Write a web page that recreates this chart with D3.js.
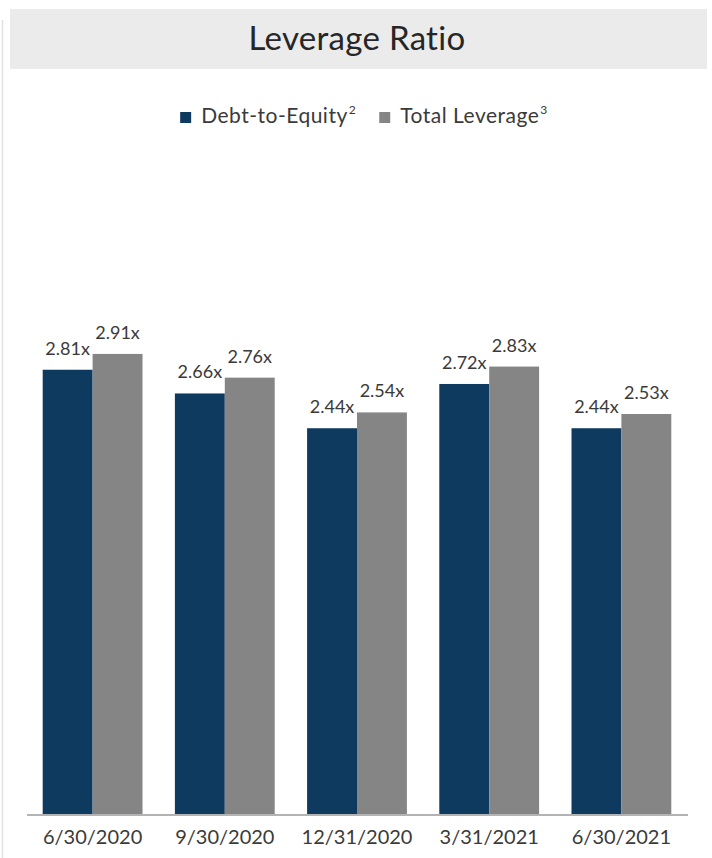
<!DOCTYPE html>
<html>
<head>
<meta charset="utf-8">
<script src="https://cdn.jsdelivr.net/npm/d3@7"></script>
<style>
  html, body { margin: 0; padding: 0; background: #fff; }
  svg { display: block; font-family: Lato, "Noto Sans", sans-serif; }
</style>
</head>
<body>
<svg id="chart" width="712" height="858"></svg>
<script>
// Quarter-end dates and the two leverage series
const categories = ["6/30/2020", "9/30/2020", "12/31/2020", "3/31/2021", "6/30/2021"];
const debtToEquity = [2.81, 2.66, 2.44, 2.72, 2.44];
const totalLeverage = [2.91, 2.76, 2.54, 2.83, 2.53];
const seriesNames = ["Debt-to-Equity", "Total Leverage"];
const seriesNotes = ["2", "3"];
const title = "Leverage Ratio";

const colors = ["#0f3a5f", "#858585"];
const textColor = "#3a3a3a";

const svg = d3.select("#chart");
const W = 712, H = 858;

// faint frame line on the left edge
svg.append("line")
  .attr("x1", 2.5).attr("x2", 2.5).attr("y1", 20).attr("y2", H)
  .attr("stroke", "#e2e2e2").attr("stroke-width", 1.5);

// title banner
svg.append("rect")
  .attr("x", 10).attr("y", 9).attr("width", 697).attr("height", 60)
  .attr("fill", "#ebebeb");
svg.append("text")
  .attr("x", 357).attr("y", 50)
  .attr("text-anchor", "middle")
  .attr("font-size", 33)
  .attr("letter-spacing", 0.3)
  .attr("fill", "#262626")
  .text(title);

// scales
const baseY = 814;
const pxPerUnit = 158.1;
const yMax = 3.5;
const y = d3.scaleLinear().domain([0, yMax]).range([baseY, baseY - pxPerUnit * yMax]);

const x0 = d3.scaleBand().domain(categories).range([26.5, 687.5])
  .paddingInner(0.245).paddingOuter(0.1225);
const x1 = d3.scaleBand().domain([0, 1]).range([0, x0.bandwidth()]).padding(0);

const rows = categories.map((c, i) => ({ cat: c, values: [debtToEquity[i], totalLeverage[i]] }));

const groups = svg.append("g").selectAll("g")
  .data(rows).join("g")
  .attr("transform", d => `translate(${x0(d.cat)},0)`);

groups.selectAll("rect")
  .data(d => d.values.map((v, k) => ({ v, k })))
  .join("rect")
  .attr("x", d => x1(d.k))
  .attr("width", x1.bandwidth())
  .attr("y", d => y(d.v))
  .attr("height", d => baseY - y(d.v))
  .attr("fill", d => colors[d.k]);

groups.selectAll("text.val")
  .data(d => d.values.map((v, k) => ({ v, k })))
  .join("text")
  .attr("class", "val")
  .attr("x", d => x1(d.k) + x1.bandwidth() / 2)
  .attr("y", d => y(d.v) - 15)
  .attr("text-anchor", "middle")
  .attr("font-size", 18)
  .attr("fill", textColor)
  .text(d => d3.format(".2f")(d.v) + "x");

// category axis
const axis = svg.append("g")
  .attr("transform", `translate(0,${baseY + 0.5})`)
  .call(d3.axisBottom(x0).tickSize(0).tickPadding(0).tickSizeOuter(0));
axis.select(".domain").attr("stroke", "#9a9a9a").attr("stroke-width", 1.5);
axis.selectAll(".tick text")
  .attr("y", 29)
  .attr("dy", 0)
  .attr("font-size", 20)
  .attr("font-family", "Lato, 'Noto Sans', sans-serif")
  .attr("fill", textColor);

// legend
const legend = svg.append("g");
const items = legend.selectAll("g").data(seriesNames).join("g");
items.append("rect")
  .attr("width", 11).attr("height", 11)
  .attr("y", 112)
  .attr("fill", (d, i) => colors[i]);
const labels = items.append("text")
  .attr("x", 21).attr("y", 122.5)
  .attr("font-size", 21)
  .attr("letter-spacing", 0.5)
  .attr("fill", textColor);
labels.append("tspan").text(d => d);
labels.append("tspan")
  .attr("font-size", 12).attr("dy", -9).attr("dx", 1)
  .text((d, i) => seriesNotes[i]);

// lay legend items out side by side, centred
let cursor = 0;
const gap = 23;
const widths = [];
items.each(function () { widths.push(this.getBBox().width); });
const total = d3.sum(widths) + gap * (widths.length - 1);
cursor = 364 - total / 2;
items.attr("transform", (d, i) => {
  const tx = cursor;
  cursor += widths[i] + gap;
  return `translate(${tx},0)`;
});
</script>
</body>
</html>
